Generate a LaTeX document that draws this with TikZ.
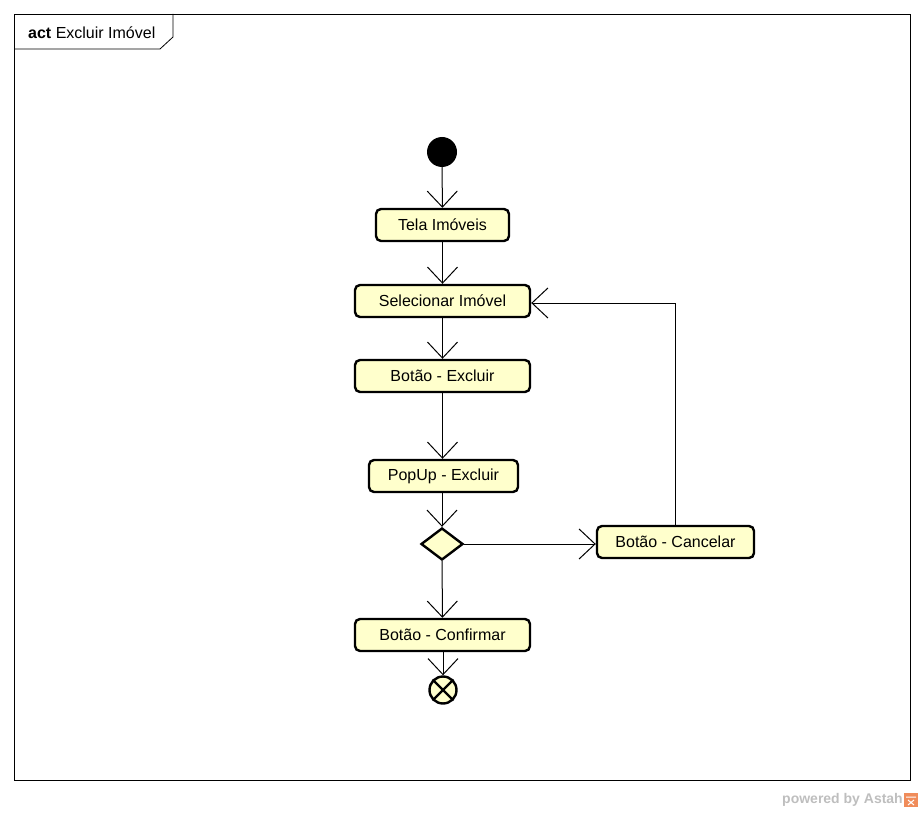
\documentclass[tikz,border=0pt]{standalone}
\usepackage{fontspec}
\setmainfont{Liberation Sans}
\usetikzlibrary{arrows.meta,shapes.geometric}
\definecolor{actfill}{RGB}{255,255,204}
\definecolor{wmgray}{RGB}{190,190,190}
\definecolor{wmorange}{RGB}{240,140,90}
\begin{document}
\begin{tikzpicture}[x=1pt,y=-1pt,
  action/.style={draw=black,line width=2.4pt,fill=actfill,rounded corners=5pt,
    minimum height=32pt,inner sep=0pt,font=\fontsize{16}{18}\selectfont},
  flow/.style={draw=black,line width=1pt,-{Straight Barb[length=16pt,width=30pt,line width=1pt]}},
  choice/.style={draw=black,line width=2.4pt,fill=actfill,diamond,aspect=1.3,
    minimum width=42pt,minimum height=32pt,inner sep=0pt}]
\useasboundingbox (0,0) rectangle (924,813);
% diagram frame and its title tab
\draw[line width=0.8pt] (14,14) rectangle (910,780);
\draw[line width=0.8pt] (14,49) -- (160,49) -- (173,37) -- (173,14);
\node[anchor=west,font=\fontsize{16}{18}\selectfont,inner sep=0pt] (title) at (28,33) {\textbf{act} Excluir Imóvel};
% nodes
\node[circle,fill=black,minimum size=30pt,inner sep=0pt] (start) at (442,152) {};
\node[action,minimum width=133pt] (tela) at (442.5,225) {Tela Imóveis};
\node[action,minimum width=175pt] (sel) at (442.5,301) {Selecionar Imóvel};
\node[action,minimum width=175pt] (exc) at (442.5,376) {Botão - Excluir};
\node[action,minimum width=149pt] (pop) at (443.5,476) {PopUp - Excluir};
\node[choice] (dec) at (442,544) {};
\node[action,minimum width=157pt] (canc) at (675.5,542) {Botão - Cancelar};
\node[action,minimum width=175pt] (conf) at (442.5,635) {Botão - Confirmar};
\node[circle,draw=black,line width=2.4pt,fill=actfill,minimum size=27pt,inner sep=0pt] (end) at (443,690) {};
\draw[line width=2.4pt] (end.north east) -- (end.south west) (end.north west) -- (end.south east);
% flows
\coordinate (selin) at ([yshift=-2pt]sel.east);
\draw[flow] (start) -- (tela);
\draw[flow] (tela) -- (sel);
\draw[flow] (sel) -- (exc);
\draw[flow] (exc) -- (pop.north -| exc);
\draw[flow] (pop.south -| dec) -- (dec);
\draw[flow] (dec.east) -- (canc.west |- dec.east);
\draw[flow] (canc.north) -- (canc.north |- selin) -- (selin);
\draw[flow] (dec) -- (conf);
\draw[flow] (conf.south -| end) -- (end);
% watermark
\node[anchor=east,text=wmgray,font=\fontsize{14}{16}\selectfont\bfseries,inner sep=0pt] (wm) at (903,800) {powered by Astah};
\fill[wmorange] (904,793) rectangle (918,807);
\draw[white,line width=1pt] (906,797) -- (916,797) (908,800) -- (914,805) (914,800) -- (908,805);
\end{tikzpicture}
\end{document}
